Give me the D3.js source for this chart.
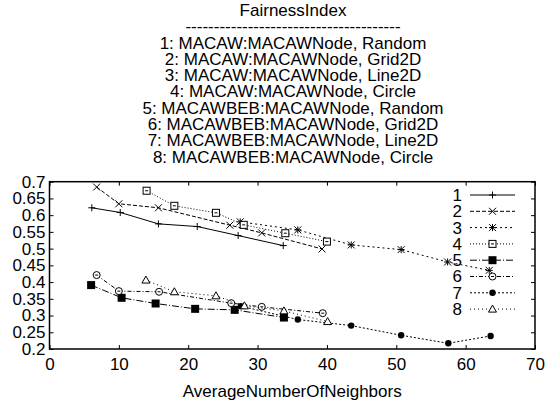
<!DOCTYPE html>
<html>
<head>
<meta charset="utf-8">
<script src="https://cdn.jsdelivr.net/npm/d3@7"></script>
<style>
  body { margin: 0; background: #fff; }
  text { font-family: 'Liberation Sans', Arial, sans-serif; fill: #000; }
</style>
</head>
<body>
<svg id="chart" width="546" height="405"></svg>
<script>
const titleLines = [
  'FairnessIndex',
  '--------------------------------------',
  '1: MACAW:MACAWNode, Random',
  '2: MACAW:MACAWNode, Grid2D',
  '3: MACAW:MACAWNode, Line2D',
  '4: MACAW:MACAWNode, Circle',
  '5: MACAWBEB:MACAWNode, Random',
  '6: MACAWBEB:MACAWNode, Grid2D',
  '7: MACAWBEB:MACAWNode, Line2D',
  '8: MACAWBEB:MACAWNode, Circle',
];
const xLabel = 'AverageNumberOfNeighbors';
const xTicks = [0, 10, 20, 30, 40, 50, 60, 70];
const yTicks = [0.2, 0.25, 0.3, 0.35, 0.4, 0.45, 0.5, 0.55, 0.6, 0.65, 0.7];

const seriesNames = ['1', '2', '3', '4', '5', '6', '7', '8'];
const x1 = [6.1, 10.2, 15.7, 21.3, 27.2, 33.7];
const y1 = [0.622, 0.608, 0.574, 0.566, 0.539, 0.509];
const x2 = [6.8, 10.0, 15.7, 26.0, 30.6, 39.3];
const y2 = [0.684, 0.634, 0.622, 0.570, 0.547, 0.499];
const x3 = [27.5, 35.8, 43.5, 50.7, 57.4, 63.4];
const y3 = [0.580, 0.556, 0.511, 0.497, 0.460, 0.435];
const x4 = [14.0, 18.0, 24.0, 28.0, 34.0, 40.0];
const y4 = [0.673, 0.628, 0.607, 0.571, 0.546, 0.521];
const x5 = [6.0, 10.4, 15.3, 21.0, 26.7, 33.8];
const y5 = [0.391, 0.353, 0.336, 0.320, 0.317, 0.294];
const x6 = [6.8, 10.0, 15.8, 26.2, 30.6, 39.4];
const y6 = [0.421, 0.373, 0.371, 0.337, 0.326, 0.307];
const x7 = [27.6, 35.8, 43.5, 50.7, 57.5, 63.6];
const y7 = [0.328, 0.288, 0.270, 0.241, 0.217, 0.239];
const x8 = [13.9, 18.0, 24.0, 28.1, 33.8, 40.1];
const y8 = [0.406, 0.371, 0.359, 0.329, 0.314, 0.282];

const xsAll = [x1, x2, x3, x4, x5, x6, x7, x8];
const ysAll = [y1, y2, y3, y4, y5, y6, y7, y8];
// gnuplot-ish dash patterns and point types
const dashes = ['none', '4,2', '2,3', '1,2', '7,2,1,2', '4,2,1,2', '2,2', '1,3'];
const markers = ['plus', 'cross', 'star', 'square', 'fsquare', 'dcircle', 'fcircle', 'triangle'];

const svg = d3.select('#chart');
const margin = { left: 49.5, right: 535, top: 181.7, bottom: 349 };
const fs = 17;

const x = d3.scaleLinear().domain([0, 70]).range([margin.left, margin.right]);
const y = d3.scaleLinear().domain([0.2, 0.7]).range([margin.bottom, margin.top]);

// title block
svg.append('g')
  .selectAll('text')
  .data(titleLines)
  .join('text')
  .attr('x', 293)
  .attr('y', (d, i) => 10 + i * 16.3)
  .attr('dy', '0.35em')
  .attr('text-anchor', 'middle')
  .attr('font-size', fs)
  .text((d) => d);

// axes (ticks point inward, mirrored)
const styleAxis = (g) => {
  g.select('.domain').remove();
  g.selectAll('.tick line').attr('stroke', '#000').attr('stroke-width', 1);
  g.selectAll('.tick text').attr('font-size', fs).attr('font-family', 'Liberation Sans, Arial, sans-serif');
};

svg.append('g')
  .attr('transform', `translate(0,${margin.bottom})`)
  .call(d3.axisBottom(x).tickValues(xTicks).tickFormat(d3.format('d')).tickSize(-4).tickPadding(9))
  .call(styleAxis);
svg.append('g')
  .attr('transform', `translate(0,${margin.top})`)
  .call(d3.axisTop(x).tickValues(xTicks).tickSize(-4).tickFormat(''))
  .call(styleAxis);
svg.append('g')
  .attr('transform', `translate(${margin.left},0)`)
  .call(d3.axisLeft(y).tickValues(yTicks).tickFormat((d) => String(+d.toFixed(2))).tickSize(-4).tickPadding(4))
  .call(styleAxis);
svg.append('g')
  .attr('transform', `translate(${margin.right},0)`)
  .call(d3.axisRight(y).tickValues(yTicks).tickSize(-4).tickFormat(''))
  .call(styleAxis);

svg.append('rect')
  .attr('x', margin.left)
  .attr('y', margin.top)
  .attr('width', margin.right - margin.left)
  .attr('height', margin.bottom - margin.top)
  .attr('fill', 'none')
  .attr('stroke', '#000')
  .attr('stroke-width', 1.5);

svg.append('text')
  .attr('x', (margin.left + margin.right) / 2)
  .attr('y', 391)
  .attr('dy', '0.35em')
  .attr('text-anchor', 'middle')
  .attr('font-size', fs)
  .text(xLabel);

const drawMarker = (g, type, cx, cy) => {
  const s = 3.5;
  if (type === 'plus' || type === 'star') {
    g.append('path').attr('d', `M${cx - s},${cy}H${cx + s}M${cx},${cy - s}V${cy + s}`)
      .attr('stroke', '#000').attr('stroke-width', 1);
  }
  if (type === 'cross' || type === 'star') {
    g.append('path').attr('d', `M${cx - s},${cy - s}L${cx + s},${cy + s}M${cx - s},${cy + s}L${cx + s},${cy - s}`)
      .attr('stroke', '#000').attr('stroke-width', 1);
  }
  if (type === 'square') {
    g.append('rect').attr('x', cx - s).attr('y', cy - s).attr('width', 2 * s).attr('height', 2 * s)
      .attr('fill', '#fff').attr('stroke', '#000').attr('stroke-width', 1);
    g.append('path').attr('d', `M${cx - 1.5},${cy}H${cx + 1.5}`).attr('stroke', '#000');
  }
  if (type === 'fsquare') {
    g.append('rect').attr('x', cx - 4).attr('y', cy - 4).attr('width', 8).attr('height', 8).attr('fill', '#000');
  }
  if (type === 'dcircle') {
    g.append('circle').attr('cx', cx).attr('cy', cy).attr('r', s)
      .attr('fill', '#fff').attr('stroke', '#000').attr('stroke-width', 1);
    g.append('path').attr('d', `M${cx - 1.5},${cy}H${cx + 1.5}`).attr('stroke', '#000');
  }
  if (type === 'fcircle') {
    g.append('circle').attr('cx', cx).attr('cy', cy).attr('r', 3.2).attr('fill', '#000');
  }
  if (type === 'triangle') {
    g.append('path').attr('d', `M${cx},${cy - 4}L${cx + 4},${cy + 3}L${cx - 4},${cy + 3}Z`)
      .attr('fill', '#fff').attr('stroke', '#000').attr('stroke-width', 1);
  }
};

const line = d3.line().x((d) => x(d[0])).y((d) => y(d[1]));

seriesNames.forEach((name, i) => {
  const pts = xsAll[i].map((v, j) => [v, ysAll[i][j]]);
  const g = svg.append('g').attr('class', 'series');
  g.append('path')
    .attr('d', line(pts))
    .attr('fill', 'none')
    .attr('stroke', '#000')
    .attr('stroke-width', 1)
    .attr('stroke-dasharray', dashes[i]);
  pts.forEach(([px, py]) => drawMarker(g, markers[i], x(px), y(py)));

  // legend entry
  const ly = 195 + i * 16.3;
  const lg = svg.append('g').attr('class', 'legend');
  lg.append('text')
    .attr('x', 462)
    .attr('y', ly)
    .attr('dy', '0.35em')
    .attr('text-anchor', 'end')
    .attr('font-size', fs)
    .text(name);
  lg.append('path')
    .attr('d', `M470,${ly}H515`)
    .attr('stroke', '#000')
    .attr('stroke-width', 1)
    .attr('stroke-dasharray', dashes[i]);
  drawMarker(lg, markers[i], 492.5, ly);
});
</script>
</body>
</html>
